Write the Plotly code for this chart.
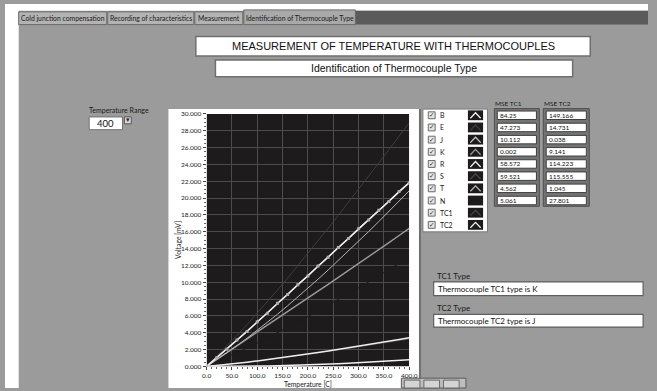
import plotly.graph_objects as go

# ---------------- data ----------------
temperature_c = [0, 20, 40, 60, 80, 100, 120, 140, 160, 180, 200,
                 220, 240, 260, 280, 300, 320, 340, 360, 380, 400]

type_b = [0.000, -0.003, 0.000, 0.006, 0.017, 0.033, 0.053, 0.078, 0.107, 0.141, 0.178,
          0.220, 0.267, 0.317, 0.372, 0.431, 0.494, 0.561, 0.632, 0.708, 0.787]
type_e = [0.000, 1.192, 2.420, 3.685, 4.985, 6.319, 7.685, 9.081, 10.503, 11.951, 13.421,
          14.912, 16.420, 17.945, 19.484, 21.036, 22.600, 24.174, 25.757, 27.348, 28.946]
type_j = [0.000, 1.019, 2.059, 3.116, 4.187, 5.269, 6.360, 7.457, 8.562, 9.669, 10.779,
          11.889, 12.998, 14.108, 15.217, 16.327, 17.439, 18.537, 19.642, 20.743, 21.848]
type_k = [0.000, 0.798, 1.612, 2.436, 3.267, 4.096, 4.920, 5.735, 6.540, 7.340, 8.138,
          8.940, 9.747, 10.561, 11.382, 12.209, 13.040, 13.874, 14.713, 15.554, 16.397]
type_r = [0.000, 0.111, 0.232, 0.363, 0.501, 0.647, 0.800, 0.959, 1.124, 1.294, 1.469,
          1.648, 1.831, 2.017, 2.207, 2.401, 2.597, 2.796, 2.997, 3.201, 3.408]
type_s = [0.000, 0.113, 0.235, 0.365, 0.502, 0.646, 0.795, 0.950, 1.109, 1.273, 1.441,
          1.612, 1.786, 1.962, 2.141, 2.323, 2.507, 2.692, 2.880, 3.069, 3.259]
type_t = [0.000, 0.790, 1.612, 2.468, 3.358, 4.279, 5.228, 6.206, 7.209, 8.237, 9.288,
          10.362, 11.458, 12.574, 13.709, 14.862, 16.032, 17.219, 18.422, 19.641, 20.872]
type_n = [0.000, 0.525, 1.065, 1.619, 2.189, 2.774, 3.374, 3.989, 4.618, 5.259, 5.913,
          6.579, 7.255, 7.941, 8.637, 9.341, 10.054, 10.774, 11.501, 12.234, 12.974]
tc1 = [0.00, 0.81, 1.60, 2.45, 3.25, 4.11, 4.91, 5.75, 6.53, 7.35, 8.13,
       8.95, 9.74, 10.57, 11.37, 12.22, 13.03, 13.88, 14.70, 15.56, 16.39]
tc2 = [0.00, 1.04, 2.03, 3.15, 4.16, 5.30, 6.33, 7.49, 8.53, 9.70, 10.75,
       11.92, 12.97, 14.14, 15.19, 16.36, 17.41, 18.57, 19.61, 20.78, 21.82]

series_names = ["B", "E", "J", "K", "R", "S", "T", "N", "TC1", "TC2"]
mse_tc1 = ["84.25", "47.273", "10.112", "0.002", "58.572", "59.521", "4.562", "5.061"]
mse_tc2 = ["149.166", "14.731", "0.038", "9.141", "114.223", "115.555", "1.045", "27.801"]

tabs = ["Cold junction compensation", "Recording of characteristics",
        "Measurement", "Identification of Thermocouple Type"]
temperature_range = 400
tc1_result = "Thermocouple TC1 type is K"
tc2_result = "Thermocouple TC2 type is J"

# ---------------- styling ----------------
W, H = 657, 391
UI_FONT = "Lato"
PANEL = "#9b9b9b"
PLOT_BG = "#1d1b1b"

series = {
    "B": (type_b, "#f2f2f2", 1.5),
    "E": (type_e, "#403e3e", 1.0),
    "J": (type_j, "#d0d0d0", 1.5),
    "K": (type_k, "#9a9a9a", 1.4),
    "R": (type_r, "#eeeeee", 1.5),
    "S": (type_s, "#4a4848", 1.0),
    "T": (type_t, "#b4b4b4", 1.0),
    "N": (type_n, "#1d1b1b", 1.0),
    "TC1": (tc1, "#454343", 1.0),
    "TC2": (tc2, "#f4f4f4", 1.2),
}
draw_order = ["E", "N", "S", "TC1", "K", "T", "J", "R", "B", "TC2"]

shapes, annotations = [], []


def px(x):
    return x / W


def py(y):
    return 1 - y / H


def rect(x0, y0, x1, y1, fill, line=None, lw=1, layer="below"):
    shapes.append(dict(type="rect", xref="paper", yref="paper",
                       x0=px(x0), x1=px(x1), y0=py(y1), y1=py(y0),
                       fillcolor=fill, layer=layer,
                       line=dict(color=line if line else fill, width=lw if line else 0)))


def vline(x, y0, y1, color, lw=1):
    shapes.append(dict(type="line", xref="paper", yref="paper", x0=px(x), x1=px(x),
                       y0=py(y0), y1=py(y1), line=dict(color=color, width=lw), layer="below"))


def text(x, y, s, size=7, color="#111111", anchor="left", family=UI_FONT, angle=0):
    annotations.append(dict(xref="paper", yref="paper", x=px(x), y=py(y), text=s,
                            showarrow=False, xanchor=anchor, yanchor="middle",
                            textangle=angle, borderpad=0,
                            font=dict(family=family, size=size, color=color)))


# ---------------- front panel ----------------
# page margins
rect(0, 0, W, 7, "#ffffff")
rect(0, 0, 14, H, "#ffffff")

# tab strip
rect(358, 7, W, 21, "#5b5b5b")
tab_edges = [(14, 104), (105, 193), (194, 243), (244, 358)]
for i, (name, (a, b)) in enumerate(zip(tabs, tab_edges)):
    active = i == len(tabs) - 1
    rect(a, 6 if active else 8, b, 21, "#a9a9a9" if active else "#b3b3b3",
         line="#6a6a6a", lw=1)
    text((a + b) / 2, 14, name, size=6.8, color="#1a1a1a", anchor="center")

# headings
rect(195, 33, 598, 53, "#ffffff", line="#6f6f6f", lw=1.5)
text(397, 43, "MEASUREMENT OF TEMPERATURE WITH THERMOCOUPLES", size=11,
     color="#111111", anchor="center", family="Liberation Sans")
rect(215, 57, 580, 74, "#ffffff", line="#6f6f6f", lw=1.5)
text(397, 65.5, "Identification of Thermocouple Type", size=10.5,
     color="#111111", anchor="center", family="Liberation Sans")

# temperature range control
text(85, 108, "Temperature Range", size=7, color="#1a1a1a")
rect(86, 115, 120, 128, "#ffffff", line="#707070", lw=1)
text(103, 121.5, str(temperature_range), size=9.5, color="#111111", anchor="center")
rect(122, 115, 129, 122, "#d8d8d8", line="#555555", lw=1)
text(125.5, 118.5, "▾", size=7, color="#222222", anchor="center", family="DejaVu Sans")

# graph panel
rect(167, 107, 423, H, "#ffffff")
vline(424, 107, H, "#6f6f6f", lw=2)
shapes.append(dict(type="rect", xref="x", yref="y", x0=0, x1=400, y0=0, y1=30,
                   fillcolor=PLOT_BG, line=dict(width=0), layer="below"))
text(310, 386.5, "Temperature [C]", size=6.8, color="#222222", anchor="center")
text(176, 240, "Voltage [mV]", size=6.8, color="#222222", anchor="center", angle=-90)

# graph palette buttons
rect(405, 381, 471, H, "#bdbdbd", line="#5a5a5a", lw=1)
for bx in (408, 428, 448):
    rect(bx, 383, bx + 16, H, "#d4d4d4", line="#6a6a6a", lw=1)

# plot legend
rect(427, 107, 493, 232, "#ffffff", line="#7a7a7a", lw=1)
row_y0, row_dy = 113.3, 12.4
for i, name in enumerate(series_names):
    yy = row_y0 + i * row_dy
    rect(432.5, yy - 3.5, 439.5, yy + 3.5, "#e4e4e4", line="#6a6a6a", lw=1)
    text(436, yy, "✓", size=6.5, color="#222222", anchor="center", family="DejaVu Sans")
    text(443, yy, name, size=7, color="#1a1a1a")
    color = series[name][1]
    rect(473, yy - 5, 488.5, yy + 5, "#1d1b1b", layer="above")
    shapes.append(dict(type="path", xref="paper", yref="paper", layer="above",
                       path="M {} {} L {} {} L {} {}".format(px(475.5), py(yy + 3),
                                                         px(480.75), py(yy - 2.5),
                                                         px(486), py(yy + 3)),
                       line=dict(color=color, width=1.3)))

# MSE tables
for col_x0, col_x1, title, values in ((500, 546, "MSE TC1", mse_tc1),
                                      (550, 597, "MSE TC2", mse_tc2)):
    text(col_x0, 101, title, size=6.5, color="#1a1a1a")
    rect(col_x0, 106.5, col_x1, 206, "#747474", line="#4f4f4f", lw=1)
    for i, v in enumerate(values):
        yy = row_y0 + i * row_dy
        rect(col_x0 + 3, yy - 4.3, col_x1 - 3, yy + 4.3, "#ffffff", line="#3f3f3f", lw=1)
        text(col_x0 + 5, yy, v, size=6.5, color="#111111")

# identification results
text(440, 276.5, "TC1 Type", size=8, color="#1a1a1a")
rect(438, 283, 652, 297, "#ffffff", line="#5f5f5f", lw=1.2)
text(441, 290, tc1_result, size=8, color="#111111")
text(440, 309.5, "TC2 Type", size=8, color="#1a1a1a")
rect(438, 316, 652, 329, "#ffffff", line="#5f5f5f", lw=1.2)
text(441, 322.5, tc2_result, size=8, color="#111111")

# ---------------- curves ----------------
fig = go.Figure()
for name in draw_order:
    values, color, width = series[name]
    fig.add_trace(go.Scatter(
        x=temperature_c, y=values, name=name,
        mode="lines+markers" if name == "TC2" else "lines",
        line=dict(color=color, width=width),
        marker=dict(size=3, color="#b0b0b0", symbol="square", line=dict(width=0)),
        showlegend=False, hoverinfo="skip"))

axis_common = dict(showgrid=True, gridcolor="#4d4b4b", gridwidth=1, zeroline=False,
                   showline=False, ticks="outside", ticklen=3, tickcolor="#444444",
                   tickfont=dict(family=UI_FONT, size=6.5, color="#222222"),
                   minor=dict(ticks="outside", ticklen=1.5, tickcolor="#666666",
                              showgrid=False))

fig.update_layout(
    width=W, height=H, autosize=False,
    margin=dict(l=0, r=0, t=0, b=0, pad=0),
    paper_bgcolor=PANEL, plot_bgcolor=PLOT_BG,
    showlegend=False,
    shapes=shapes, annotations=annotations,
    xaxis=dict(domain=[px(206), px(413)], range=[0, 400], dtick=50, tick0=0,
               tickformat=".1f", **{**axis_common,
                                    "minor": dict(axis_common["minor"], dtick=10)}),
    yaxis=dict(domain=[py(369), py(112)], range=[0, 30], dtick=2, tick0=0,
               tickformat=".3f", **{**axis_common,
                                    "minor": dict(axis_common["minor"], dtick=0.5)}),
)

fig.write_html("out.html")
